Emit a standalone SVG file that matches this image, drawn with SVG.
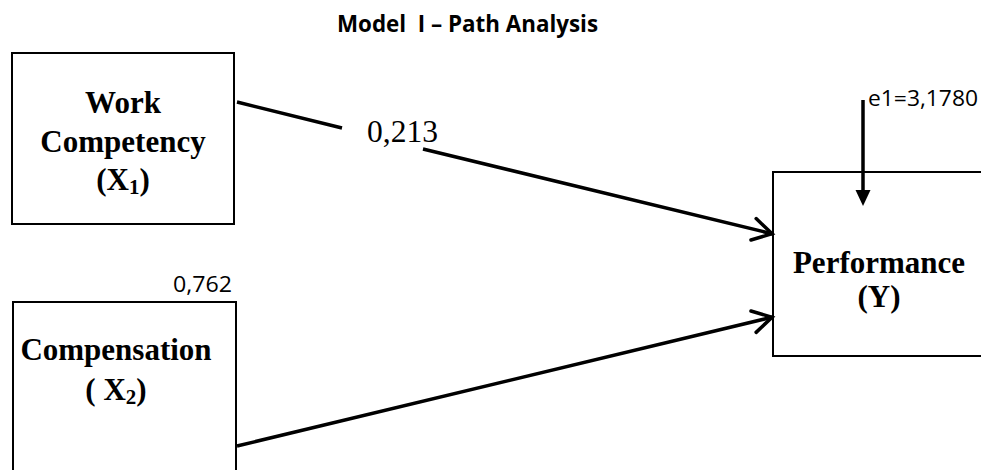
<svg xmlns="http://www.w3.org/2000/svg" width="981" height="470" viewBox="0 0 981 470">
<style>
.box{fill:none;stroke:#000;stroke-width:2}
.lbl{font-family:"Liberation Serif","Times New Roman",serif;font-weight:bold;font-size:31px;fill:#000;text-anchor:middle}
.sub{font-size:21px}
.num{font-family:"Liberation Serif","Times New Roman",serif;font-size:31px;fill:#000}
.sans{font-family:"Open Sans","Noto Sans",sans-serif;font-size:22px;fill:#000}
.title{font-family:"Open Sans","Noto Sans",sans-serif;font-size:23px;font-weight:bold;fill:#000}
.conn{fill:none;stroke:#000;stroke-width:3.5}
</style>
<defs>
<marker id="open" markerUnits="userSpaceOnUse" viewBox="-25 -15 30 30" refX="1" refY="0" markerWidth="30" markerHeight="30" orient="auto">
<path d="M-19,-11 L0,0 L-19,11" fill="none" stroke="#000" stroke-width="3.5" stroke-linecap="round"/>
</marker>
<marker id="solid" markerUnits="userSpaceOnUse" viewBox="0 -10 20 20" refX="0" refY="0" markerWidth="20" markerHeight="20" orient="auto">
<path d="M0,-7.5 L16,0 L0,7.5 Z" fill="#000"/>
</marker>
</defs>
<rect x="0" y="0" width="981" height="470" fill="#fff"/>
<text class="title" x="337" y="32" textLength="261" lengthAdjust="spacingAndGlyphs" xml:space="preserve">Model  I – Path Analysis</text>
<g id="node-x1">
<rect class="box" x="12" y="53" width="222" height="171"/>
<text class="lbl" x="123" y="113">Work</text>
<text class="lbl" x="123" y="152">Competency</text>
<text class="lbl" x="123" y="190">(X<tspan class="sub" dy="4">1</tspan><tspan dy="-4">)</tspan></text>
</g>
<g id="node-x2">
<rect class="box" x="13" y="302" width="223" height="200"/>
<text class="lbl" x="116" y="360">Compensation</text>
<text class="lbl" x="116" y="400" xml:space="preserve">( X<tspan class="sub" dy="4">2</tspan><tspan dy="-4">)</tspan></text>
<text class="sans" x="173" y="292" textLength="59" lengthAdjust="spacingAndGlyphs">0,762</text>
</g>
<g id="node-y">
<rect class="box" x="773" y="172" width="230" height="184"/>
<text class="lbl" x="879" y="273">Performance</text>
<text class="lbl" x="879" y="307">(Y)</text>
</g>
<g id="connectors">
<path class="conn" d="M237,102 L342,128 M423,149 L773,234" marker-end="url(#open)"/>
<path class="conn" d="M237,446 L773,317" marker-end="url(#open)"/>
<path class="conn" d="M863,100 L863,190" stroke-width="4" marker-end="url(#solid)"/>
</g>
<text class="num" x="367" y="142" textLength="71" lengthAdjust="spacingAndGlyphs">0,213</text>
<text class="sans" x="868" y="106" textLength="110" lengthAdjust="spacingAndGlyphs">e1=3,1780</text>
</svg>
